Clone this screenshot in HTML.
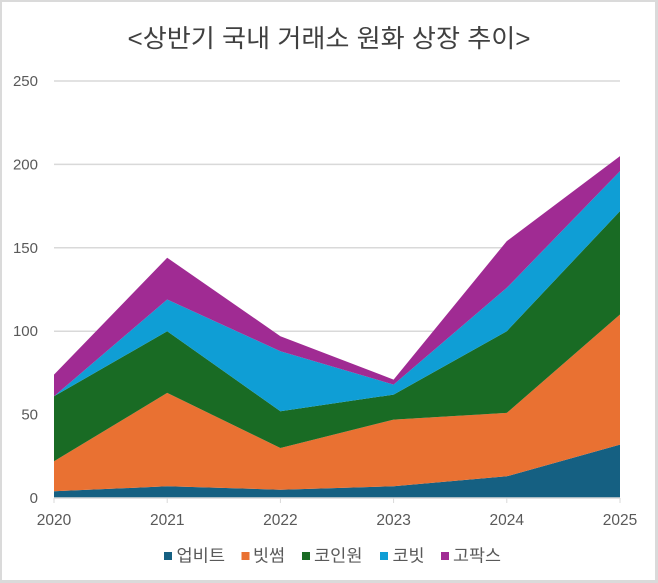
<!DOCTYPE html>
<html>
<head>
<meta charset="utf-8">
<style>
  html, body { margin: 0; padding: 0; background: #ffffff; }
  body { width: 658px; height: 583px; overflow: hidden; }
  svg { display: block; }
  .t { font-family: "Liberation Sans", "Noto Sans CJK KR", sans-serif; fill: #595959; }
  .k { font-family: "Liberation Sans", "Noto Sans CJK KR", sans-serif; }
</style>
</head>
<body>
<svg width="658" height="583" viewBox="0 0 658 583" xmlns="http://www.w3.org/2000/svg">
  <!-- outer border -->
  <rect x="0" y="0" width="658" height="583" fill="#dadada"/>
  <rect x="2" y="2" width="653" height="578" fill="#ffffff"/>

  <!-- title -->
  <text class="k" x="329" y="47" text-anchor="middle" font-size="25" fill="#404040" textLength="403" lengthAdjust="spacingAndGlyphs">&lt;상반기 국내 거래소 원화 상장 추이&gt;</text>

  <!-- gridlines -->
  <g stroke="#d9d9d9" stroke-width="1.5">
    <line x1="54" y1="81" x2="620" y2="81"/>
    <line x1="54" y1="164.4" x2="620" y2="164.4"/>
    <line x1="54" y1="247.8" x2="620" y2="247.8"/>
    <line x1="54" y1="331.2" x2="620" y2="331.2"/>
    <line x1="54" y1="414.6" x2="620" y2="414.6"/>
  </g>

  <!-- y labels -->
  <g class="t" font-size="15" text-anchor="end">
    <text x="38" y="86">250</text>
    <text x="38" y="169.4">200</text>
    <text x="38" y="252.8">150</text>
    <text x="38" y="336.2">100</text>
    <text x="38" y="419.6">50</text>
    <text x="38" y="503">0</text>
  </g>

  <!-- areas -->
  <!-- 업비트 -->
  <polygon fill="#156082" points="54,491.3 167.2,486.3 280.4,489.7 393.6,486.3 506.8,476.3 620,444.6 620,498 54,498"/>
  <!-- 빗썸 -->
  <polygon fill="#e97132" points="54,461.3 167.2,392.9 280.4,448.0 393.6,419.6 506.8,412.9 620,314.5 620,444.6 506.8,476.3 393.6,486.3 280.4,489.7 167.2,486.3 54,491.3"/>
  <!-- 코인원 -->
  <polygon fill="#196b24" points="54,396.3 167.2,331.2 280.4,411.3 393.6,394.6 506.8,331.2 620,211.1 620,314.5 506.8,412.9 393.6,419.6 280.4,448.0 167.2,392.9 54,461.3"/>
  <!-- 코빗 -->
  <polygon fill="#0f9ed5" points="54,396.3 167.2,299.5 280.4,351.2 393.6,384.6 506.8,287.8 620,171.1 620,211.1 506.8,331.2 393.6,394.6 280.4,411.3 167.2,331.2 54,396.3"/>
  <!-- 고팍스 -->
  <polygon fill="#a02b93" points="54,374.6 167.2,257.8 280.4,336.2 393.6,379.6 506.8,241.1 620,156.1 620,171.1 506.8,287.8 393.6,384.6 280.4,351.2 167.2,299.5 54,396.3"/>

  <!-- x axis -->
  <line x1="54" y1="498" x2="620" y2="498" stroke="#d9d9d9" stroke-width="1.5"/>
  <g stroke="#d9d9d9" stroke-width="1">
    <line x1="54" y1="498" x2="54" y2="503"/>
    <line x1="167.2" y1="498" x2="167.2" y2="503"/>
    <line x1="280.4" y1="498" x2="280.4" y2="503"/>
    <line x1="393.6" y1="498" x2="393.6" y2="503"/>
    <line x1="506.8" y1="498" x2="506.8" y2="503"/>
    <line x1="620" y1="498" x2="620" y2="503"/>
  </g>

  <!-- x labels -->
  <g class="t" font-size="15.5" text-anchor="middle">
    <text x="54" y="525">2020</text>
    <text x="167.2" y="525">2021</text>
    <text x="280.4" y="525">2022</text>
    <text x="393.6" y="525">2023</text>
    <text x="506.8" y="525">2024</text>
    <text x="620" y="525">2025</text>
  </g>

  <!-- legend -->
  <rect x="164" y="552" width="8" height="8" fill="#156082"/>
  <text class="t" x="176.5" y="561.5" font-size="17" textLength="48.5" lengthAdjust="spacingAndGlyphs">업비트</text>
  <rect x="241.5" y="552" width="8" height="8" fill="#e97132"/>
  <text class="t" x="253" y="561.5" font-size="17" textLength="32" lengthAdjust="spacingAndGlyphs">빗썸</text>
  <rect x="302" y="552" width="8" height="8" fill="#196b24"/>
  <text class="t" x="314" y="561.5" font-size="17" textLength="48.5" lengthAdjust="spacingAndGlyphs">코인원</text>
  <rect x="380" y="552" width="8" height="8" fill="#0f9ed5"/>
  <text class="t" x="392.5" y="561.5" font-size="17" textLength="32" lengthAdjust="spacingAndGlyphs">코빗</text>
  <rect x="441" y="552" width="8" height="8" fill="#a02b93"/>
  <text class="t" x="453" y="561.5" font-size="17" textLength="48" lengthAdjust="spacingAndGlyphs">고팍스</text>
</svg>
</body>
</html>
